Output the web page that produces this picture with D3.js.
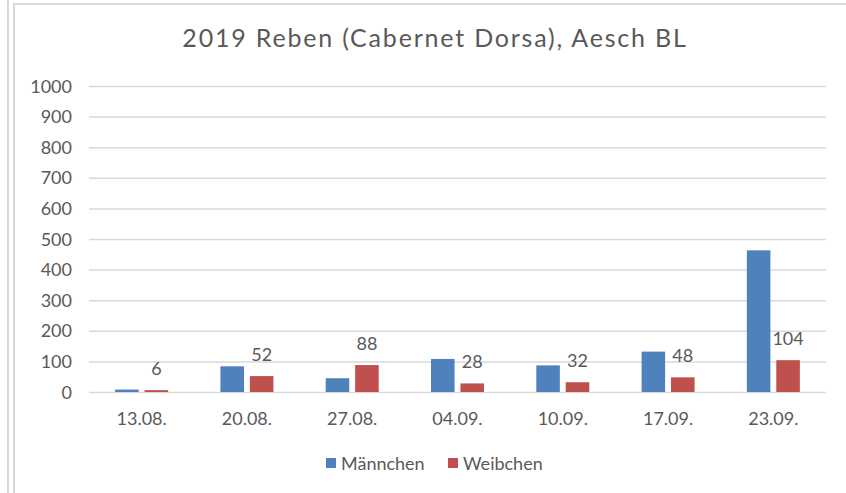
<!DOCTYPE html>
<html>
<head>
<meta charset="utf-8">
<script src="https://cdn.jsdelivr.net/npm/d3@7"></script>
<style>
	body { margin: 0; background: #fff; }
	svg { display: block; font-family: Lato, "Open Sans", sans-serif; }
</style>
</head>
<body>
<svg id="viz" width="846" height="493"></svg>
<script>
var dates = [ '13.08.', '20.08.', '27.08.', '04.09.', '10.09.', '17.09.', '23.09.' ];
var maennchen = [ 8, 84, 45, 108, 87, 132, 463 ];
var weibchen = [ 6, 52, 88, 28, 32, 48, 104 ];
var seriesNames = [ 'Männchen', 'Weibchen' ];
var yTicks = [ 0, 100, 200, 300, 400, 500, 600, 700, 800, 900, 1000 ];

var colors = {
	'Männchen': '#4F81BD',
	'Weibchen': '#C0504D'
};
var textColor = '#595959';
var gridColor = '#D9D9D9';

var svg = d3.select( '#viz' );

// frame lines at the left and top edge
svg.append( 'line' ).attr( 'x1', 8 ).attr( 'x2', 8 ).attr( 'y1', 0 ).attr( 'y2', 493 )
	.attr( 'stroke', gridColor ).attr( 'stroke-width', 2 );
svg.append( 'line' ).attr( 'x1', 14 ).attr( 'x2', 14 ).attr( 'y1', 3 ).attr( 'y2', 493 )
	.attr( 'stroke', gridColor ).attr( 'stroke-width', 2 );
svg.append( 'line' ).attr( 'x1', 13 ).attr( 'x2', 846 ).attr( 'y1', 4 ).attr( 'y2', 4 )
	.attr( 'stroke', gridColor ).attr( 'stroke-width', 2 );

svg.append( 'text' )
	.attr( 'x', 435 )
	.attr( 'y', 47 )
	.attr( 'text-anchor', 'middle' )
	.style( 'font-size', '25px' )
	.style( 'letter-spacing', '1.8px' )
	.style( 'fill', textColor )
	.text( '2019 Reben (Cabernet Dorsa), Aesch BL' );

var plotLeft = 89, plotRight = 826, plotTop = 86, plotBottom = 392;

var y = d3.scaleLinear().domain( [ 0, 1000 ] ).range( [ plotBottom, plotTop ] );
var x0 = d3.scaleBand().domain( dates ).range( [ plotLeft, plotRight ] );
var x1 = d3.scaleBand().domain( seriesNames ).range( [ 0, 53 ] ).paddingInner( 0.2 );
var pairOffset = ( x0.bandwidth() - 53 ) / 2;

// gridlines
svg.append( 'g' )
	.attr( 'transform', 'translate(' + plotLeft + ',0)' )
	.call( d3.axisLeft( y ).tickValues( yTicks ).tickSize( -( plotRight - plotLeft ) ).tickFormat( '' ) )
	.call( function ( g ) {
		g.select( '.domain' ).remove();
		g.selectAll( '.tick line' ).attr( 'stroke', gridColor ).attr( 'stroke-width', 1.5 );
	} );

// y labels
svg.selectAll( 'text.y-label' )
	.data( yTicks )
	.enter()
	.append( 'text' )
	.classed( 'y-label', true )
	.attr( 'x', 72 )
	.attr( 'y', function ( d ) { return y( d ) + 6.5; } )
	.attr( 'text-anchor', 'end' )
	.style( 'font-size', '18px' )
	.style( 'fill', textColor )
	.text( function ( d ) { return d; } );

var data = [];
dates.forEach( function ( date, i ) {
	data.push( { date: date, series: 'Männchen', value: maennchen[i] } );
	data.push( { date: date, series: 'Weibchen', value: weibchen[i] } );
} );

var barX = function ( d ) { return x0( d.date ) + pairOffset + x1( d.series ); };

svg.selectAll( 'rect.bar' )
	.data( data )
	.enter()
	.append( 'rect' )
	.classed( 'bar', true )
	.attr( 'x', barX )
	.attr( 'y', function ( d ) { return y( d.value ); } )
	.attr( 'width', x1.bandwidth() )
	.attr( 'height', function ( d ) { return plotBottom - y( d.value ); } )
	.style( 'fill', function ( d ) { return colors[d.series]; } );

// value labels, only the Weibchen series
svg.selectAll( 'text.bar-label' )
	.data( data.filter( function ( d ) { return d.series === 'Weibchen'; } ) )
	.enter()
	.append( 'text' )
	.classed( 'bar-label', true )
	.attr( 'x', function ( d ) { return barX( d ) + x1.bandwidth() / 2; } )
	.attr( 'y', function ( d ) { return y( d.value ) - 15; } )
	.attr( 'text-anchor', 'middle' )
	.style( 'font-size', '18px' )
	.style( 'fill', textColor )
	.text( function ( d ) { return d.value; } );

// category labels
svg.selectAll( 'text.x-label' )
	.data( dates )
	.enter()
	.append( 'text' )
	.classed( 'x-label', true )
	.attr( 'x', function ( d ) { return x0( d ) + x0.bandwidth() / 2; } )
	.attr( 'y', 425 )
	.attr( 'text-anchor', 'middle' )
	.style( 'font-size', '18px' )
	.style( 'fill', textColor )
	.text( function ( d ) { return d; } );

// legend
var legendX = [ 326, 448 ];
var legend = svg.selectAll( 'g.legend' )
	.data( seriesNames )
	.enter()
	.append( 'g' )
	.classed( 'legend', true )
	.attr( 'transform', function ( d, i ) { return 'translate(' + legendX[i] + ',458)'; } );
legend.append( 'rect' )
	.attr( 'width', 10 ).attr( 'height', 10 )
	.style( 'fill', function ( d ) { return colors[d]; } );
legend.append( 'text' )
	.attr( 'x', 15 )
	.attr( 'y', 11.5 )
	.style( 'font-size', '18px' )
	.style( 'fill', textColor )
	.text( function ( d ) { return d; } );
</script>
</body>
</html>
